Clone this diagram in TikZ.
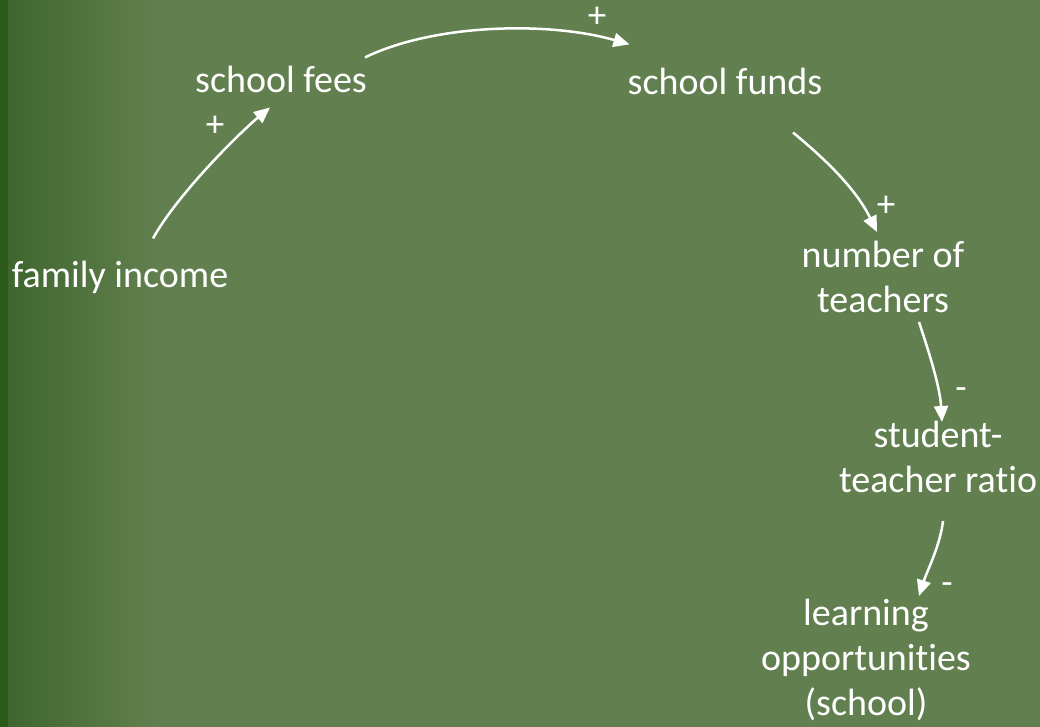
\documentclass[tikz,border=0pt]{standalone}
\usepackage{fontspec}
\setmainfont{Carlito}[Ligatures={NoCommon}]
\usepackage{tikz}
\usetikzlibrary{arrows.meta,calc}
\tikzset {>={Triangle[length=16pt,width=14pt]}}
\definecolor{bggreen}{HTML}{62804F}
\definecolor{darkgreen}{HTML}{2B5A1A}
\definecolor{midgreen}{HTML}{3F662F}
\tikzset{factor/.style={text=white,inner sep=0pt,font=\fontsize{38}{45}\selectfont},
  sign/.style={text=white,inner sep=0pt,font=\fontsize{37}{44}\selectfont},
  link/.style={->,white,line width=2.5pt}}

\begin{document}
\begin{tikzpicture}[x=1pt,y=-1pt]
\fill[bggreen] (0,0) rectangle (1040,727);
\useasboundingbox (0,0) rectangle (1040,727);
\shade[left color=midgreen,right color=bggreen] (8,0) rectangle (160,727);
\fill[darkgreen] (0,0) rectangle (8,727);

\node[factor,anchor=base] (income) at (120,287) {family income};
\node[factor,anchor=base] (fees) at (281,93) {school fees};
\node[factor,anchor=base] (funds) at (725,95) {school funds};
\node[factor,anchor=north,align=center] (teachers) at (883,241) {number of\\teachers};
\node[factor,anchor=north,align=center] (ratio) at (938,421) {student-\\teacher ratio};
\node[factor,anchor=north,align=center] (learning) at (866,599) {learning\\opportunities\\(school)};

\node[sign] (s1) at (215,126) {+};
\node[sign] (s2) at (597,17) {+};
\node[sign] (s3) at (886,206) {+};
\node[sign] (s4) at (961,394) {-};
\node[sign] (s5) at (947,589) {-};

\draw[link] ($(income.north)+(33,-22)$) .. controls +(25,-45) and +(-30,25) .. ($(fees.south)+(-11,14)$);
\draw[link] ($(fees.north east)+(-2,-9)$) .. controls +(70,-34) and +(-80,-23) .. ($(funds.north west)+(2,-24)$);
\draw[link] ($(funds.south)+(68,37)$) .. controls +(30,25) and +(-22,-45) .. ($(teachers.north)+(-6,-9)$);
\draw[link] ($(teachers.south)+(36,9)$) .. controls +(10,30) and +(-2,-35) .. ($(ratio.north)+(4,1)$);
\draw[link] ($(ratio.south)+(5,28)$) .. controls +(-3,25) and +(8,-25) .. ($(learning.north)+(53,-3)$);
\end{tikzpicture}
\end{document}
